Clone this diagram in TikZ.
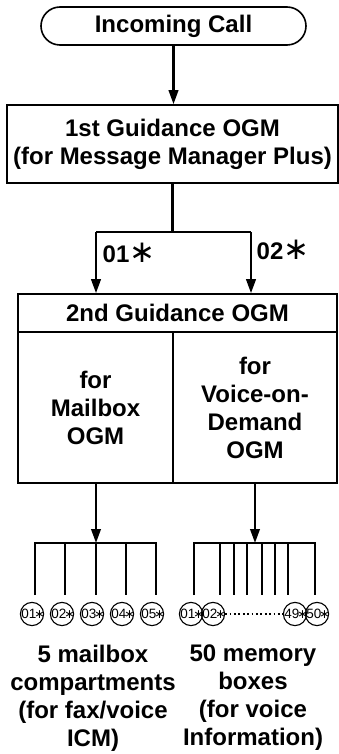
\documentclass[tikz,border=0pt]{standalone}
\usepackage{fontspec}
\setmainfont{Liberation Sans}
\newfontfamily\djv{DejaVu Sans}
\usetikzlibrary{arrows.meta}
\newcommand{\astr}{\makebox[6.2pt]{\djv\mdseries\fontsize{12.5}{12.5}\selectfont ∗}}
\newcommand{\bigast}{{\djv\mdseries\fontsize{31}{31}\selectfont ∗}}
\begin{document}
\begin{tikzpicture}[x=1pt,y=-1pt,
  lbl/.style={font=\fontsize{24}{28}\selectfont\bfseries, align=center, inner sep=0pt},
  boxline/.style={draw, line width=1.6pt},
  conn/.style={line width=2.3pt},
  arr/.style={conn, -{Triangle[length=14pt,width=9.5pt]}},
  num/.style={draw, circle, line width=1.1pt, minimum size=22pt, inner sep=0pt, font=\fontsize{13.5}{13.5}\selectfont}
]
\useasboundingbox (0,0) rectangle (339,754);
% nodes
\node[boxline, lbl, rounded corners=19pt, minimum width=265pt, minimum height=38pt] (inc) at (173.5,26) {Incoming Call};
\node[boxline, lbl, minimum width=331pt, minimum height=78pt] (g1) at (172.5,144) {1st Guidance OGM\\(for Message Manager Plus)};
\node[boxline, lbl, minimum width=319pt, minimum height=38pt] (g2h) at (177.5,313) {2nd Guidance OGM};
\node[boxline, lbl, minimum width=155pt, minimum height=151pt] (g2l) at (95.5,407.5) {for\\Mailbox\\OGM};
\node[boxline, lbl, minimum width=164pt, minimum height=151pt] (g2r) at (255,407.5) {for\\Voice-on-\\Demand\\OGM};
\node[lbl] (l01) at (129,253) {01\bigast};
\node[lbl] (l02) at (283,250) {02\bigast};
% connectors top
\draw[arr] (inc.south) -- (inc.south |- g1.north);
\coordinate (b1) at (96,232);
\coordinate (b2) at (251,232);
\draw[conn] (g1.south) -- (g1.south |- b1);
\draw[conn] (b1) -- (b2);
\draw[arr] (b1) -- (b1 |- g2h.north);
\draw[arr] (b2) -- (b2 |- g2h.north);
% connectors to trees
\coordinate (t1) at (96,543);
\coordinate (t2) at (255,543);
\draw[arr] (t1 |- g2l.south) -- (t1);
\draw[arr] (t2 |- g2r.south) -- (t2);
% left tree
\foreach \x [count=\i] in {35,65,96,126,156} { \coordinate (L\i) at (\x,595); }
\draw[conn] (L1) |- (L5 |- t1) -- (L5);
\foreach \i in {2,3,4} { \draw[conn] (L\i |- t1) -- (L\i); }
% right tree
\foreach \x [count=\i] in {194,220,234,247,262,275,288,315} { \coordinate (R\i) at (\x,595); }
\draw[conn] (R1) |- (R8 |- t2) -- (R8);
\foreach \i in {2,...,7} { \draw[conn] (R\i |- t2) -- (R\i); }
% circles
\foreach \x/\t [count=\i] in {32/01,62/02,92/03,122/04,152/05} { \node[num] (c\i) at (\x,614) {\t\astr}; }
\node[num] (d1) at (191,614) {01\astr};
\node[num] (d2) at (213,614) {02\astr};
\node[num] (d49) at (295,614) {49\astr};
\node[num] (d50) at (317,614) {50\astr};
\draw[line width=1.8pt, dash pattern=on 1.8pt off 2.6pt] (d2.east) -- (d49.west);
% bottom texts
\node[lbl] (tl) at (93,698) {5 mailbox\\compartments\\(for fax/voice\\ICM)};
\node[lbl] (tr) at (253,698) {50 memory\\boxes\\(for voice\\Information)};
\end{tikzpicture}
\end{document}
